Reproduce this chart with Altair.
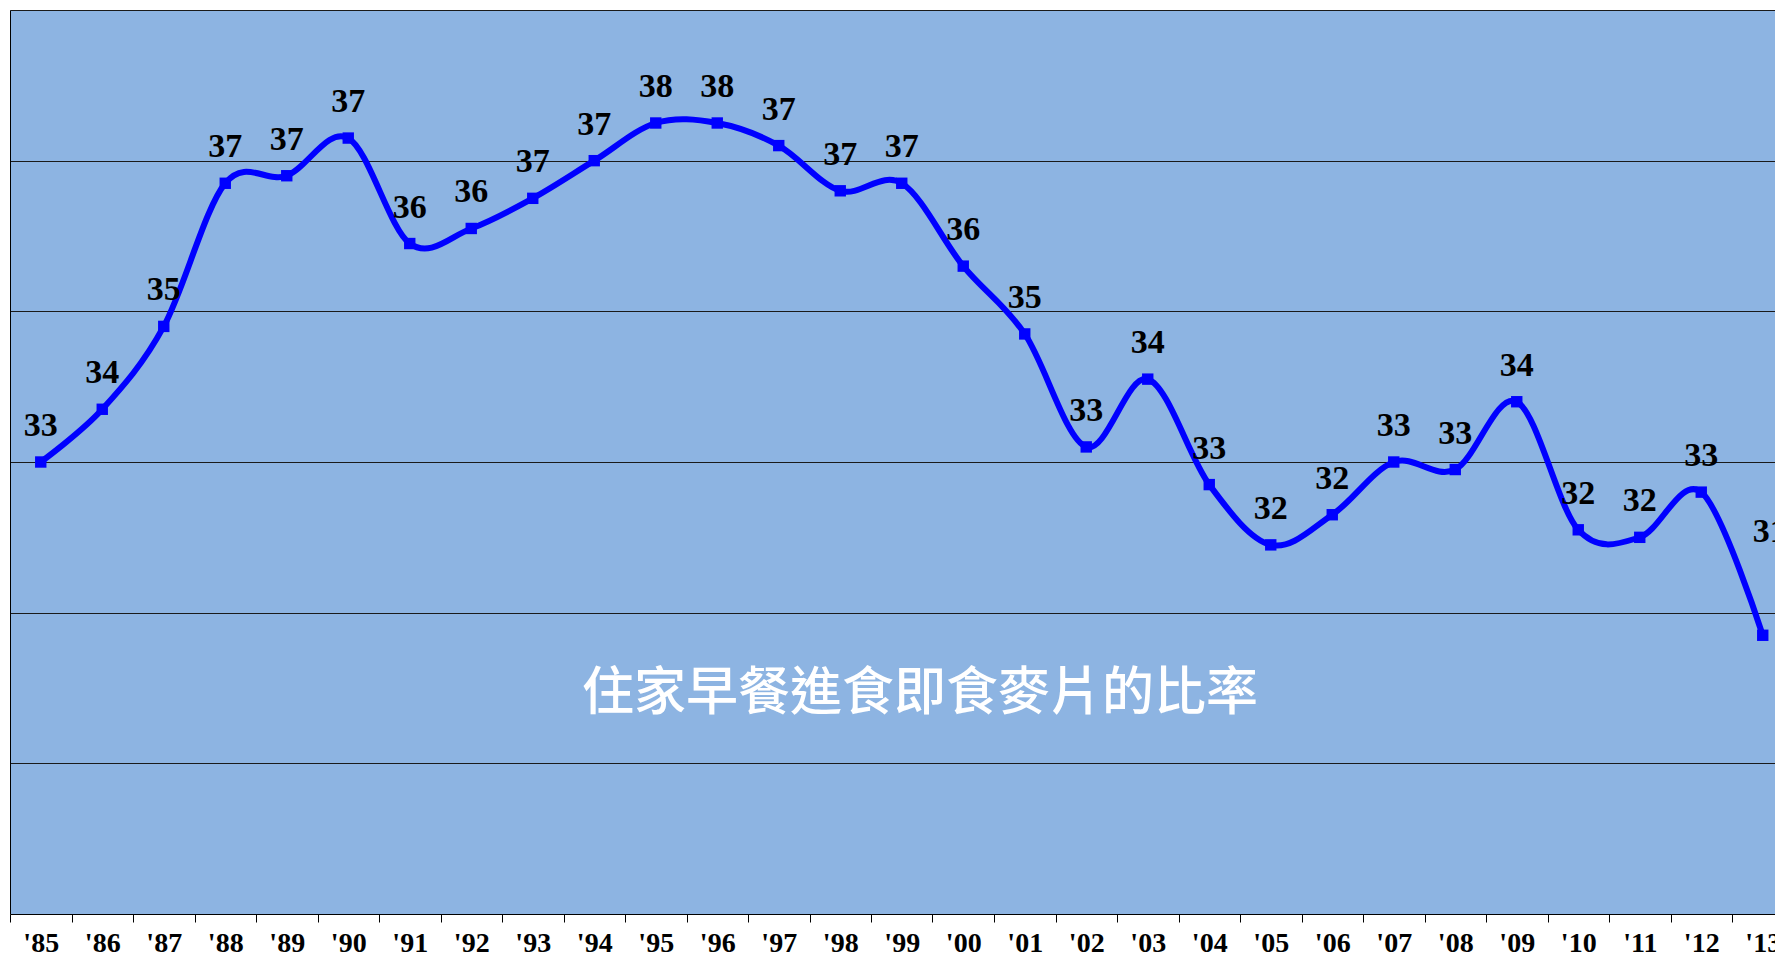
import json
import altair as alt
import pandas as pd

# ---- data ----
years = ["'85", "'86", "'87", "'88", "'89", "'90", "'91", "'92", "'93", "'94",
         "'95", "'96", "'97", "'98", "'99", "'00", "'01", "'02", "'03", "'04",
         "'05", "'06", "'07", "'08", "'09", "'10", "'11", "'12", "'13"]
values = [33.0, 33.7, 34.8, 36.7, 36.8, 37.3, 35.9, 36.1, 36.5, 37.0,
          37.5, 37.5, 37.2, 36.6, 36.7, 35.6, 34.7, 33.2, 34.1, 32.7,
          31.9, 32.3, 33.0, 32.9, 33.8, 32.1, 32.0, 32.6, 30.7]
labels = [33, 34, 35, 37, 37, 37, 36, 36, 37, 37,
          38, 38, 37, 37, 37, 36, 35, 33, 34, 33,
          32, 32, 33, 33, 34, 32, 32, 33, 31]
grid_values = [29, 31, 33, 35, 37, 39]
caption = "住家早餐進食即食麥片的比率"

n = len(years)
df = pd.DataFrame({"idx": list(range(n)), "year": years,
                   "value": values, "label": labels})

W, H = 1765, 904
step = 61.5
x_scale = alt.Scale(domain=[-0.5, -0.5 + W / step], nice=False, zero=False)
y_scale = alt.Scale(domain=[27, 39], nice=False, zero=False)

label_expr = json.dumps(years) + "[round(datum.value + 0.5)]"

x_axis = alt.Axis(
    values=[i - 0.5 for i in range(n)],
    labelExpr=label_expr,
    labelOffset=step / 2,
    labelFlush=False,
    labelOverlap=False,
    ticks=True, tickSize=8, tickColor="black", tickWidth=1,
    domain=True, domainColor="black", domainWidth=1,
    labelFont="Liberation Serif", labelFontWeight="bold", labelFontSize=28,
    labelColor="black", labelPadding=29, labelBaseline="alphabetic",
    grid=False, title=None,
)
y_axis = alt.Axis(
    values=grid_values, labels=False, ticks=False,
    grid=True, gridColor="#1a1a1a", gridWidth=1, gridOpacity=1,
    domain=True, domainColor="black", domainWidth=1, title=None,
)

base = alt.Chart(df)
x = alt.X("idx:Q", scale=x_scale, axis=x_axis)
y = alt.Y("value:Q", scale=y_scale, axis=y_axis)

line = base.mark_line(color="#0000FF", strokeWidth=6,
                      interpolate="cardinal").encode(x=x, y=y)

points = base.mark_point(shape="square", filled=True, size=130,
                         color="#0000FF", opacity=1).encode(
    x=alt.X("idx:Q"), y=alt.Y("value:Q"))

text_main = base.transform_filter(f"datum.idx < {n - 1}").mark_text(
    font="Liberation Serif", fontWeight="bold", fontSize=34, color="black",
    baseline="alphabetic", align="center", dy=-26,
).encode(x=alt.X("idx:Q"), y=alt.Y("value:Q"), text="label:N")

text_last = base.transform_filter(f"datum.idx == {n - 1}").mark_text(
    font="Liberation Serif", fontWeight="bold", fontSize=34, color="black",
    baseline="alphabetic", align="center", dx=7, dy=-93,
).encode(x=alt.X("idx:Q"), y=alt.Y("value:Q"), text="label:N")

title = alt.Chart(pd.DataFrame({"t": [caption]})).mark_text(
    font="Noto Sans CJK TC", fontSize=52, fontWeight=500, color="white",
    baseline="middle", align="center",
).encode(x=alt.value(910), y=alt.value(684), text="t:N")

chart = alt.layer(line, points, text_main, text_last, title).properties(
    width=W, height=H,
    autosize=alt.AutoSizeParams(type="none"),
    padding={"left": 2, "top": 2, "right": 0, "bottom": 44},
    background="white",
).configure_view(fill="#8DB4E2", stroke=None)

chart.save("out.html", embed_options={"renderer": "svg", "actions": False})
